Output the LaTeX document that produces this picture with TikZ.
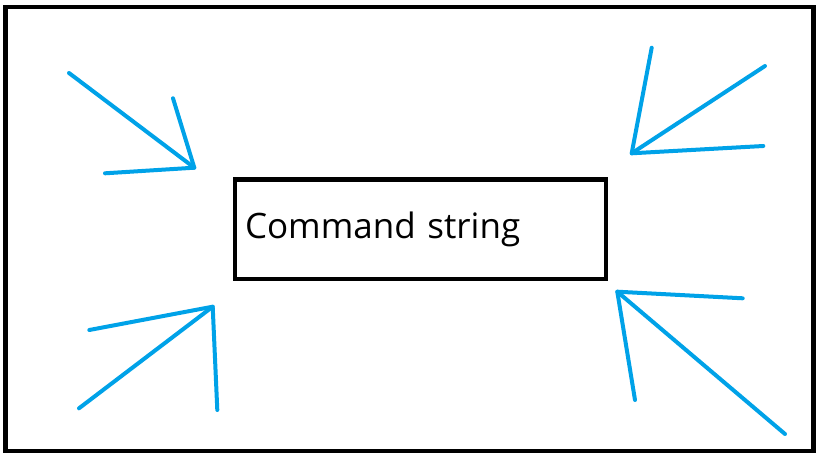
\documentclass[tikz,border=0pt]{standalone}
\usepackage{fontspec}
\setmainfont{Open Sans}
\usetikzlibrary{positioning}
\definecolor{paintblue}{RGB}{0,162,232}

\begin{document}
\begin{tikzpicture}[x=1pt, y=-1pt,
		frame/.style={draw, line width=4.5pt, minimum width=808pt, minimum height=444pt},
		cmdbox/.style={draw, line width=4.5pt, minimum width=371pt, minimum height=99.5pt, inner xsep=10pt, text width=351pt, align=left, font=\fontsize{35}{42}\selectfont},
		stroke/.style={draw=paintblue, line width=4pt, line cap=round, line join=round}]
			\useasboundingbox (0,0) rectangle (819,460);
			\node[frame]  (F)  at (409.5,229) {};
			\node[cmdbox] (cmd) at (420.5,229.25) {Command string};

			% top left
			\coordinate (tlTip)  at (194.3,167.7);
			\coordinate (tlTail) at (69,73);
			\coordinate (tlA)    at (173,98.3);
			\coordinate (tlB)    at (105,173.3);
			% top right
			\coordinate (trTip)  at (631.7,153.3);
			\coordinate (trTail) at (765,66);
			\coordinate (trA)    at (651.7,47.7);
			\coordinate (trB)    at (763.3,146);
			% bottom left
			\coordinate (blTip)  at (212.7,306.7);
			\coordinate (blTail) at (79,408.3);
			\coordinate (blA)    at (89.3,330);
			\coordinate (blB)    at (217.3,410);
			% bottom right
			\coordinate (brTip)  at (617.3,291.7);
			\coordinate (brTail) at (785,434);
			\coordinate (brA)    at (742.7,298.3);
			\coordinate (brB)    at (635,400);

			\draw[stroke] (tlTail) -- (tlTip);
			\draw[stroke] (tlA) -- (tlTip) -- (tlB);
			\draw[stroke] (trTail) -- (trTip);
			\draw[stroke] (trA) -- (trTip) -- (trB);
			\draw[stroke] (blTail) -- (blTip);
			\draw[stroke] (blA) -- (blTip) -- (blB);
			\draw[stroke] (brTail) -- (brTip);
			\draw[stroke] (brA) -- (brTip) -- (brB);
		\end{tikzpicture}
\end{document}
